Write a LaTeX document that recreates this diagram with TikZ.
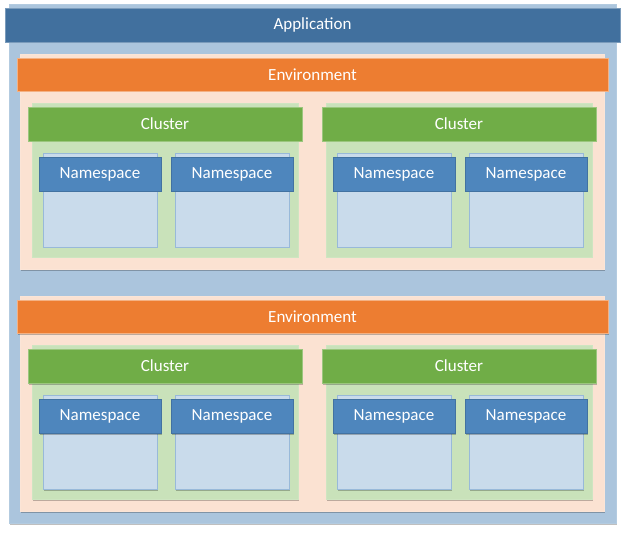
\documentclass[tikz,border=0pt]{standalone}
\usepackage{fontspec}
\setmainfont{Carlito}
\usetikzlibrary{fit,shadows}
\definecolor{appdark}{HTML}{41709E}
\definecolor{appbg}{HTML}{ABC5DD}
\definecolor{envbg}{HTML}{FBE2D2}
\definecolor{envbar}{HTML}{ED7D31}
\definecolor{clbar}{HTML}{70AD47}
\definecolor{clbg}{HTML}{C9E2BA}
\definecolor{nsbar}{HTML}{4E86BD}
\definecolor{nsbg}{HTML}{C9DBEB}
\tikzset{
  box/.style={inner sep=0pt, outer sep=0pt, rectangle,
    drop shadow={shadow xshift=1.2pt, shadow yshift=-1.5pt, opacity=0.25, fill=black}},
  boxtext/.style={text=white, font=\fontsize{17}{20}\selectfont, inner sep=0pt},
  apppanel/.style={box, fill=appbg, draw=appbg!90!white, line width=0.6pt},
  apphead/.style={box, fill=appdark, draw=appdark!70!white, line width=0.6pt},
  envpanel/.style={box, fill=envbg, draw=envbg!90!white, line width=0.6pt},
  envhead/.style={box, fill=envbar, draw=envbar!60!white, line width=0.6pt},
  clpanel/.style={box, fill=clbg, draw=clbg!90!white, line width=0.6pt},
  clhead/.style={box, fill=clbar, draw=clbar!70!white, line width=0.6pt},
  nspanel/.style={box, fill=nsbg, draw=nsbar!40!nsbg, line width=0.8pt},
  nshead/.style={box, fill=nsbar, draw=nsbar!85!black, line width=0.6pt},
}
\newcommand\mkbox[7]{\node[#1, fit={(#3,#4) (#5,#6)}, label={[boxtext]center:#7}] (#2) {};}
\begin{document}
\begin{tikzpicture}[x=1pt, y=-1pt]
\useasboundingbox (0,0) rectangle (626,537);
\mkbox{apppanel}{app}{9}{4}{616}{523}{}
\mkbox{apphead}{apph}{5}{8}{620}{42}{Application}
\foreach \e/\dy in {1/0, 2/242} {
  \mkbox{envpanel}{env\e}{20}{54+\dy}{604}{269+\dy}{}
  \mkbox{envhead}{env\e h}{17}{58+\dy}{608}{91+\dy}{Environment}
  \foreach \c/\dx in {1/0, 2/294} {
    \mkbox{clpanel}{env\e cl\c}{32+\dx}{103+\dy}{298+\dx}{257+\dy}{}
    \mkbox{clhead}{env\e cl\c h}{28+\dx}{107+\dy}{302+\dx}{141+\dy}{Cluster}
    \foreach \n/\nx in {1/0, 2/132} {
      \mkbox{nspanel}{env\e cl\c ns\n}{43+\dx+\nx}{153+\dy}{157+\dx+\nx}{247+\dy}{}
      \mkbox{nshead}{env\e cl\c ns\n h}{39+\dx+\nx}{157+\dy}{161+\dx+\nx}{191+\dy}{Namespace}
    }
  }
}
\end{tikzpicture}
\end{document}
